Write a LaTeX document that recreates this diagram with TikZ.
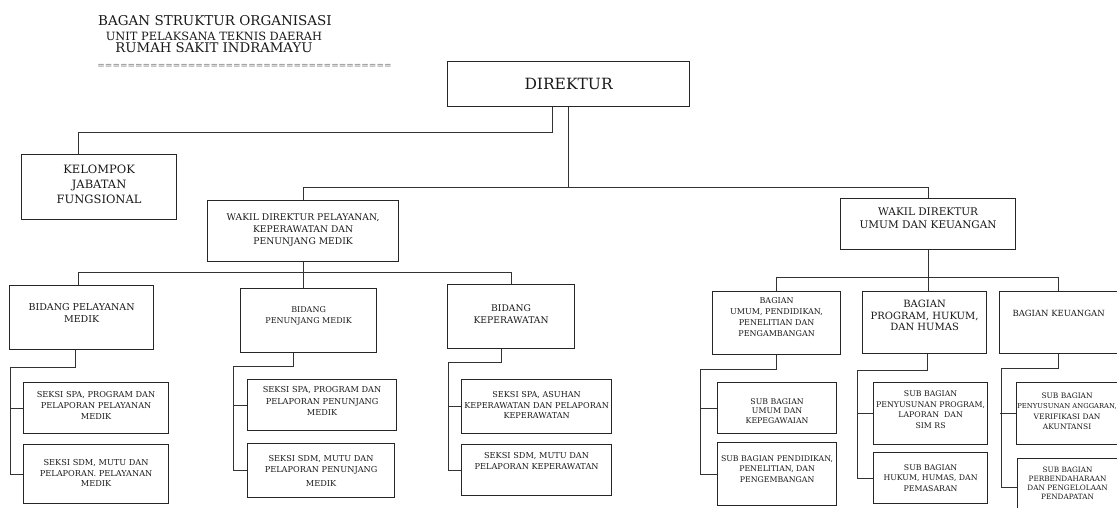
\documentclass[tikz,border=0pt]{standalone}
\usepackage{fontspec}
\setmainfont{DejaVu Serif}
\usetikzlibrary{positioning,calc}

\newcommand{\fs}[2]{\fontsize{#1}{#2}\selectfont}
% width, height, top gap, text
\newcommand{\boxtext}[4]{\parbox[c][#2pt][t]{#1pt}{\centering\vspace*{#3pt}#4\par}}

\tikzset{
  box/.style={draw=black!85, line width=1.2pt, inner sep=0pt, anchor=north west, text=black!90},
  line/.style={draw=black!80, line width=0.9pt},
  judul/.style={inner sep=0pt, text=black!90}
}

\begin{document}
\begin{tikzpicture}[x=1pt,y=-1pt]
	\useasboundingbox (0,0) rectangle (1117,508);

	% title
	\node[judul, font=\fs{13.5}{16}] (judul1) at (215,21) {BAGAN STRUKTUR ORGANISASI};
	\node[judul, font=\fs{11.4}{14}] (judul2) at (214,36) {UNIT PELAKSANA TEKNIS DAERAH};
	\node[judul, font=\fs{13.3}{16}] (judul3) at (214,48) {RUMAH SAKIT INDRAMAYU};
	\node[judul, font=\fs{9}{10}, text=black!55] (garis) at (244.5,66.5) {=======================================};

	% top level
	\node[box, font=\fs{15.5}{18}] (dir) at (447,61) {\boxtext{242}{45}{16.5}{DIREKTUR}};
	\node[box, font=\fs{11.5}{15}] (kjf) at (21,154) {\boxtext{155}{65}{10}{KELOMPOK\\JABATAN\\FUNGSIONAL}};
	\node[box, font=\fs{9.2}{12}] (wpl) at (207,200) {\boxtext{191}{61}{13.5}{WAKIL DIREKTUR PELAYANAN,\\KEPERAWATAN DAN\\PENUNJANG MEDIK}};
	\node[box, font=\fs{10.5}{13}] (wuk) at (840,198) {\boxtext{175}{51}{9}{WAKIL DIREKTUR\\UMUM DAN KEUANGAN}};

	% bidang
	\node[box, font=\fs{9.5}{12}] (bpm) at (9,285) {\boxtext{144}{64}{17.5}{BIDANG PELAYANAN\\MEDIK}};
	\node[box, font=\fs{8}{11}] (bpj) at (240,288) {\boxtext{136}{64}{18}{BIDANG\\PENUNJANG MEDIK}};
	\node[box, font=\fs{9.2}{12}] (bkp) at (447,284) {\boxtext{127}{64}{20.5}{BIDANG\\KEPERAWATAN}};

	% seksi
	\node[box, font=\fs{8.2}{11}] (spm1) at (23,382) {\boxtext{145}{51}{9}{SEKSI SPA, PROGRAM DAN\\PELAPORAN PELAYANAN\\MEDIK}};
	\node[box, font=\fs{8.2}{10.5}] (spm2) at (23,444) {\boxtext{145}{59}{15}{SEKSI SDM, MUTU DAN\\PELAPORAN. PELAYANAN\\MEDIK}};
	\node[box, font=\fs{8.2}{11.5}] (spj1) at (247,379) {\boxtext{149}{51}{7}{SEKSI SPA, PROGRAM DAN\\PELAPORAN PENUNJANG\\MEDIK}};
	\node[box, font=\fs{8.2}{10.5}] (spj2) at (247,443) {\boxtext{147}{54}{12}{SEKSI SDM, MUTU DAN\\PELAPORAN PENUNJANG\\[3.5pt]MEDIK}};
	\node[box, font=\fs{8.1}{10.5}] (skp1) at (461,379) {\boxtext{150}{54}{12}{SEKSI SPA, ASUHAN\\KEPERAWATAN DAN PELAPORAN\\KEPERAWATAN}};
	\node[box, font=\fs{8.2}{11}] (skp2) at (461,444) {\boxtext{150}{51}{8}{SEKSI SDM, MUTU DAN\\PELAPORAN KEPERAWATAN}};

	% bagian
	\node[box, font=\fs{8}{11}] (bgu) at (712,291) {\boxtext{128}{63}{6}{BAGIAN\\UMUM, PENDIDIKAN,\\PENELITIAN DAN\\PENGAMBANGAN}};
	\node[box, font=\fs{10}{11.5}] (bgp) at (862,291) {\boxtext{124}{62}{8.5}{BAGIAN\\PROGRAM, HUKUM,\\DAN HUMAS}};
	\node[box, font=\fs{8.5}{11}] (bgk) at (999,291) {\boxtext{118}{62}{19}{BAGIAN KEUANGAN}};

	% sub bagian
	\node[box, font=\fs{7.8}{9.5}] (sbu1) at (717,382) {\boxtext{119}{51}{16}{SUB BAGIAN\\UMUM DAN\\KEPEGAWAIAN}};
	\node[box, font=\fs{7.8}{10.5}] (sbu2) at (717,442) {\boxtext{119}{63}{13}{SUB BAGIAN PENDIDIKAN,\\PENELITIAN, DAN\\PENGEMBANGAN}};
	\node[box, font=\fs{7.8}{10.7}] (sbp1) at (873,382) {\boxtext{114}{62}{8}{SUB BAGIAN\\PENYUSUNAN PROGRAM,\\LAPORAN~~DAN\\SIM RS}};
	\node[box, font=\fs{7.8}{10.5}] (sbp2) at (873,452) {\boxtext{114}{51}{12}{SUB BAGIAN\\HUKUM, HUMAS, DAN\\PEMASARAN}};
	\node[box, font=\fs{7.5}{10.5}] (sbk1) at (1016,382) {\boxtext{101}{62}{10}{SUB BAGIAN\\\mbox{\fs{6.8}{10.5}PENYUSUNAN ANGGARAN,}\\VERIFIKASI DAN\\AKUNTANSI}};
	\node[box, font=\fs{7.3}{9}] (sbk2) at (1017,458) {\boxtext{100}{57}{8.5}{SUB BAGIAN\\PERBENDAHARAAN\\DAN PENGELOLAAN\\PENDAPATAN}};

	% direktur lines
	\draw[line] ([xshift=-16pt]dir.south) -- ++(0,25) -| ([xshift=-21pt]kjf.north);
	\draw[line] (dir.south) -- ++(0,80) coordinate (j1);
	\draw[line] (wpl.north) -- (wpl.north |- j1) -- (wuk.north |- j1) -- (wuk.north);

	% wakil lines
	\draw[line] (wpl.south) -- ++(0,10) coordinate (j2);
	\draw[line] ([xshift=-3pt]bpm.north) -- ([xshift=-3pt]bpm.north |- j2) -- (bkp.north |- j2) -- (bkp.north);
	\draw[line] (j2) -- (j2 |- bpj.north);
	\draw[line] (wuk.south) -- ++(0,27) coordinate (j3);
	\draw[line] (bgu.north) -- (bgu.north |- j3) -- (bgk.north |- j3) -- (bgk.north);
	\draw[line] (j3) -- (j3 |- bgp.north);

	% seksi and sub bagian lines
	\draw[line] ([xshift=-6pt]bpm.south) -- ++(0,17) -| ([xshift=-13pt]spm2.west) -- (spm2.west);
	\draw[line] ([xshift=-13pt]spm1.west) -- (spm1.west);
	\draw[line] ([xshift=-15pt]bpj.south) -- ++(0,13) -| ([xshift=-14pt]spj2.west) -- (spj2.west);
	\draw[line] ([xshift=-14pt]spj1.west) -- (spj1.west);
	\draw[line] ([xshift=-10pt]bkp.south) -- ++(0,13) -| ([xshift=-13pt]skp2.west) -- (skp2.west);
	\draw[line] ([xshift=-13pt]skp1.west) -- (skp1.west);
	\draw[line] (bgu.south) -- ++(0,14) -| ([xshift=-17pt]sbu2.west) -- (sbu2.west);
	\draw[line] ([xshift=-17pt]sbu1.west) -- (sbu1.west);
	\draw[line] ([xshift=3pt]bgp.south) -- ++(0,16) -| ([xshift=-16pt]sbp2.west) -- (sbp2.west);
	\draw[line] ([xshift=-16pt]sbp1.west) -- (sbp1.west);
	\draw[line] (bgk.south) -- ++(0,14) -| ([xshift=-16pt]sbk2.west) -- (sbk2.west);
	\draw[line] ([xshift=-16pt]sbk1.west) -- (sbk1.west);
\end{tikzpicture}
\end{document}
